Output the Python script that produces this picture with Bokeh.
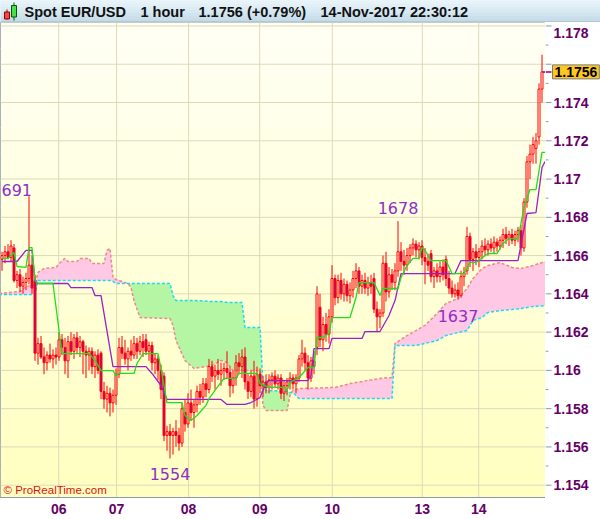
import numpy as np
from bokeh.plotting import figure
from bokeh.models import Range1d, FixedTicker, CustomJSTickFormatter, Label, BoxAnnotation
from bokeh.layouts import column, row
from bokeh.embed import file_html
from bokeh.resources import INLINE
from bokeh.core.properties import value

# ---------------- data (hourly bars, index = bar number) ----------------
opens = [1.1658,1.1660,1.1662,1.1659,1.1664,1.1647,1.1650,1.1644,1.1646,1.1648,
         1.1655,1.1647,1.1609,1.1614,1.1607,1.1604,1.1608,1.1606,1.1608,1.1607,
         1.1616,1.1612,1.1605,1.1615,1.1610,1.1617,1.1612,1.1615,1.1610,1.1608,
         1.1610,1.1602,1.1608,1.1609,1.1589,1.1585,1.1588,1.1583,1.1587,1.1598,
         1.1612,1.1609,1.1606,1.1610,1.1608,1.1614,1.1610,1.1615,1.1616,1.1610,
         1.1613,1.1604,1.1606,1.1600,1.1597,1.1566,1.1568,1.1566,1.1568,1.1566,
         1.1562,1.1578,1.1572,1.1583,1.1578,1.1582,1.1589,1.1586,1.1593,1.1590,
         1.1602,1.1597,1.1600,1.1598,1.1600,1.1601,1.1599,1.1592,1.1596,1.1604,
         1.1602,1.1607,1.1594,1.1589,1.1597,1.1585,1.1598,1.1592,1.1594,1.1591,
         1.1595,1.1597,1.1593,1.1596,1.1588,1.1592,1.1594,1.1596,1.1593,1.1596,
         1.1606,1.1609,1.1604,1.1596,1.1605,1.1612,1.1633,1.1616,1.1624,1.1619,
         1.1628,1.1648,1.1638,1.1647,1.1640,1.1645,1.1639,1.1642,1.1648,1.1652,
         1.1644,1.1647,1.1643,1.1646,1.1648,1.1632,1.1628,1.1630,1.1656,1.1641,
         1.1650,1.1646,1.1652,1.1662,1.1657,1.1655,1.1660,1.1664,1.1666,1.1663,
         1.1665,1.1659,1.1657,1.1661,1.1649,1.1652,1.1649,1.1654,1.1658,1.1648,
         1.1643,1.1640,1.1642,1.1639,1.1649,1.1652,1.1670,1.1658,1.1662,1.1659,
         1.1662,1.1665,1.1663,1.1666,1.1664,1.1667,1.1665,1.1668,1.1671,1.1669,
         1.1671,1.1668,1.1671,1.1673,1.1664,1.1688,1.1709,1.1713,1.1716,1.1722,
         1.1747]
highs = [1.1662,1.1665,1.1666,1.1668,1.1666,1.1652,1.1653,1.1649,1.1651,1.1691,
         1.1660,1.1650,1.1617,1.1618,1.1612,1.1610,1.1614,1.1611,1.1612,1.1620,
         1.1619,1.1617,1.1618,1.1620,1.1619,1.1620,1.1618,1.1616,1.1613,1.1612,
         1.1612,1.1610,1.1611,1.1610,1.1594,1.1592,1.1591,1.1590,1.1601,1.1617,
         1.1618,1.1616,1.1612,1.1616,1.1618,1.1617,1.1618,1.1619,1.1619,1.1615,
         1.1615,1.1609,1.1608,1.1603,1.1599,1.1571,1.1572,1.1570,1.1574,1.1570,
         1.1583,1.1585,1.1588,1.1590,1.1585,1.1592,1.1593,1.1596,1.1596,1.1606,
         1.1605,1.1603,1.1606,1.1604,1.1604,1.1610,1.1602,1.1600,1.1608,1.1609,
         1.1611,1.1612,1.1598,1.1600,1.1605,1.1602,1.1601,1.1597,1.1598,1.1598,
         1.1599,1.1600,1.1598,1.1598,1.1595,1.1596,1.1599,1.1598,1.1598,1.1608,
         1.1616,1.1612,1.1608,1.1607,1.1610,1.1644,1.1640,1.1628,1.1630,1.1632,
         1.1655,1.1650,1.1650,1.1651,1.1648,1.1647,1.1646,1.1652,1.1656,1.1654,
         1.1650,1.1651,1.1649,1.1650,1.1651,1.1636,1.1632,1.1660,1.1662,1.1654,
         1.1653,1.1656,1.1678,1.1667,1.1663,1.1664,1.1666,1.1669,1.1668,1.1667,
         1.1668,1.1664,1.1661,1.1663,1.1654,1.1656,1.1657,1.1658,1.1660,1.1652,
         1.1647,1.1645,1.1646,1.1652,1.1654,1.1675,1.1672,1.1664,1.1666,1.1664,
         1.1668,1.1669,1.1668,1.1669,1.1670,1.1669,1.1670,1.1674,1.1675,1.1673,
         1.1674,1.1673,1.1675,1.1676,1.1690,1.1712,1.1718,1.1722,1.1724,1.1750,
         1.1765]
lows = [1.1652,1.1656,1.1658,1.1657,1.1646,1.1643,1.1641,1.1640,1.1642,1.1645,
        1.1640,1.1605,1.1603,1.1606,1.1598,1.1600,1.1604,1.1601,1.1603,1.1605,
        1.1608,1.1598,1.1596,1.1608,1.1606,1.1609,1.1607,1.1598,1.1596,1.1600,
        1.1598,1.1596,1.1598,1.1585,1.1580,1.1578,1.1576,1.1578,1.1582,1.1596,
        1.1606,1.1603,1.1600,1.1605,1.1606,1.1606,1.1608,1.1607,1.1608,1.1605,
        1.1600,1.1598,1.1595,1.1585,1.1563,1.1558,1.1554,1.1556,1.1560,1.1558,
        1.1560,1.1568,1.1570,1.1574,1.1570,1.1578,1.1582,1.1583,1.1586,1.1588,
        1.1594,1.1590,1.1595,1.1592,1.1595,1.1596,1.1586,1.1588,1.1592,1.1598,
        1.1596,1.1590,1.1585,1.1586,1.1580,1.1581,1.1588,1.1586,1.1588,1.1588,
        1.1590,1.1591,1.1590,1.1585,1.1584,1.1587,1.1590,1.1590,1.1588,1.1594,
        1.1602,1.1600,1.1590,1.1594,1.1598,1.1608,1.1612,1.1610,1.1615,1.1614,
        1.1625,1.1634,1.1635,1.1637,1.1636,1.1636,1.1635,1.1638,1.1643,1.1640,
        1.1640,1.1640,1.1639,1.1640,1.1630,1.1620,1.1622,1.1628,1.1636,1.1638,
        1.1642,1.1642,1.1649,1.1652,1.1650,1.1652,1.1656,1.1660,1.1659,1.1658,
        1.1655,1.1645,1.1652,1.1646,1.1643,1.1646,1.1646,1.1647,1.1644,1.1640,
        1.1638,1.1638,1.1637,1.1638,1.1644,1.1650,1.1654,1.1652,1.1655,1.1654,
        1.1658,1.1660,1.1660,1.1662,1.1661,1.1662,1.1663,1.1664,1.1666,1.1665,
        1.1666,1.1665,1.1667,1.1660,1.1662,1.1685,1.1700,1.1708,1.1708,1.1718,
        1.1740]
closes = [1.1660,1.1662,1.1659,1.1665,1.1647,1.1650,1.1644,1.1646,1.1648,1.1655,
          1.1643,1.1609,1.1614,1.1607,1.1604,1.1608,1.1606,1.1608,1.1607,1.1616,
          1.1612,1.1605,1.1615,1.1610,1.1617,1.1612,1.1615,1.1610,1.1608,1.1610,
          1.1602,1.1608,1.1600,1.1589,1.1585,1.1588,1.1583,1.1587,1.1598,1.1612,
          1.1609,1.1606,1.1610,1.1608,1.1614,1.1610,1.1615,1.1612,1.1610,1.1613,
          1.1604,1.1606,1.1600,1.1590,1.1566,1.1568,1.1566,1.1568,1.1566,1.1562,
          1.1580,1.1572,1.1583,1.1578,1.1582,1.1589,1.1586,1.1593,1.1590,1.1602,
          1.1597,1.1600,1.1598,1.1600,1.1601,1.1599,1.1592,1.1596,1.1604,1.1602,
          1.1607,1.1594,1.1589,1.1597,1.1585,1.1598,1.1592,1.1594,1.1591,1.1595,
          1.1597,1.1593,1.1596,1.1588,1.1592,1.1594,1.1596,1.1593,1.1596,1.1606,
          1.1609,1.1604,1.1596,1.1605,1.1602,1.1640,1.1616,1.1624,1.1619,1.1628,
          1.1648,1.1638,1.1647,1.1640,1.1645,1.1639,1.1642,1.1648,1.1652,1.1644,
          1.1647,1.1643,1.1646,1.1644,1.1632,1.1628,1.1630,1.1656,1.1641,1.1650,
          1.1646,1.1652,1.1662,1.1657,1.1655,1.1660,1.1664,1.1666,1.1663,1.1665,
          1.1659,1.1657,1.1655,1.1649,1.1652,1.1649,1.1654,1.1650,1.1648,1.1643,
          1.1640,1.1642,1.1639,1.1649,1.1651,1.1670,1.1658,1.1662,1.1659,1.1662,
          1.1665,1.1663,1.1666,1.1664,1.1667,1.1665,1.1668,1.1671,1.1669,1.1671,
          1.1668,1.1671,1.1673,1.1664,1.1688,1.1709,1.1713,1.1718,1.1720,1.1747,
          1.1756]

# Ichimoku lines (bar index, price)
tenkan_x = [0,2,3,4,5,8,9,10,11,12,17,20,29,31,33,37,38,39,44,45,47,52,53,54,55,60,61,63,65,68,
            69,71,74,78,79,85,86,89,94,95,96,99,102,104,105,107,109,110,116,118,119,124,126,127,
            132,133,135,137,139,140,141,143,148,150,154,156,158,162,165,167,169,172,174,176,178,180,181]
tenkan = [1.16585,1.16585,1.16600,1.16616,1.16543,1.16538,1.16642,1.16642,1.16470,1.16454,
          1.16454,1.16088,1.16088,1.16052,1.15999,1.15999,1.15973,1.15984,1.15984,1.16036,
          1.16088,1.16088,1.16010,1.15921,1.15832,1.15832,1.15764,1.15738,1.15764,1.15817,
          1.15853,1.15895,1.15958,1.15958,1.15984,1.15984,1.15931,1.15911,1.15911,1.15895,
          1.15937,1.15963,1.16015,1.16015,1.16172,1.16172,1.16193,1.16276,1.16276,1.16381,
          1.16459,1.16459,1.16391,1.16428,1.16428,1.16485,1.16548,1.16585,1.16585,1.16642,
          1.16627,1.16574,1.16574,1.16506,1.16506,1.16564,1.16564,1.16611,1.16611,1.16663,
          1.16689,1.16689,1.16851,1.16945,1.16945,1.17139,1.17139]
kijun_x = [0,5,8,10,11,12,22,23,30,31,33,37,48,50,53,55,73,75,81,83,86,88,89,102,103,104,109,110,
           120,121,126,129,131,133,151,153,172,175,178,180,181]
kijun = [1.16569,1.16569,1.16627,1.16627,1.16470,1.16454,1.16454,1.16433,1.16433,1.16391,
         1.16391,1.16020,1.16020,1.15984,1.15921,1.15848,1.15848,1.15822,1.15822,1.15832,
         1.15858,1.15931,1.15947,1.15947,1.15973,1.16114,1.16114,1.16167,1.16167,1.16203,
         1.16203,1.16287,1.16365,1.16506,1.16506,1.16574,1.16574,1.16820,1.16825,1.17060,1.17092]

# Cloud (senkou span A / B), projected forward
cloud_x = [-1,6,8,10,11,12,14,18,20,21,22,25,26,29,30,34,35,36,37,38,42,43,44,46,56,57,58,61,64,70,
           73,75,77,80,81,86,87,88,95,96,97,99,111,116,126,130,131,135,138,141,145,148,152,155,157,
           160,162,166,170,173,177,182]
span_a = [1.16402,1.16412,1.16438,1.16444,1.16449,1.16512,1.16532,1.16538,1.16574,1.16585,
          1.16569,1.16569,1.16585,1.16585,1.16559,1.16559,1.16627,1.16637,1.16485,1.16475,
          1.16454,1.16433,1.16365,1.16276,1.16271,1.16235,1.16156,1.16052,1.16010,1.16026,
          1.16052,1.16041,1.15999,1.15999,1.15999,1.15999,1.15817,1.15790,1.15790,1.15869,
          1.15895,1.15905,1.15911,1.15931,1.15958,1.15963,1.16141,1.16182,1.16208,1.16235,
          1.16297,1.16350,1.16376,1.16428,1.16480,1.16532,1.16548,1.16564,1.16538,1.16532,
          1.16548,1.16574]
span_b = [1.16397,1.16397,1.16397,1.16397,1.16397,1.16470,1.16470,1.16470,1.16470,1.16470,
          1.16470,1.16470,1.16470,1.16470,1.16470,1.16470,1.16470,1.16470,1.16465,1.16454,
          1.16454,1.16454,1.16454,1.16454,1.16454,1.16391,1.16365,1.16365,1.16365,1.16360,
          1.16360,1.16355,1.16355,1.16355,1.16224,1.16224,1.15921,1.15895,1.15890,1.15884,
          1.15884,1.15853,1.15853,1.15853,1.15853,1.15853,1.16130,1.16130,1.16130,1.16141,
          1.16156,1.16182,1.16198,1.16208,1.16261,1.16276,1.16303,1.16313,1.16318,1.16323,
          1.16334,1.16339]

# Annotated extremes
ext_high_bar = [9, 132]
ext_high_val = [1.1691, 1.1678]
ext_high_txt = ["1691", "1678"]
ext_low_bar = [56, 152]
ext_low_val = [1.1554, 1.1637]
ext_low_txt = ["1554", "1637"]

# Axes
y_ticks = [1.154, 1.156, 1.158, 1.160, 1.162, 1.164, 1.166, 1.168, 1.170, 1.172, 1.174, 1.176, 1.178]
y_minor = [1.155, 1.157, 1.159, 1.161, 1.163, 1.165, 1.167, 1.169, 1.171, 1.173, 1.175, 1.177]
y_hidden = [1.176, 1.178]          # 1.176 is under the price box, 1.178 is drawn lower
top_label = 1.178
day_ticks = [18.9, 38.2, 62.2, 85.9, 110.1, 140.1, 158.9]
day_labels = ["06", "07", "08", "09", "10", "13", "14"]
last_price = 1.1756
title_parts = ["Spot EUR/USD", "1 hour", "1.1756 (+0.79%)", "14-Nov-2017 22:30:12"]

# ---------------- layout ----------------
TITLE_H = 22
FRAME_W = 545
AXIS_W = 55
MAIN_H = 497
BOTTOM = 22
PX_PER_BAR = 3.0
X0 = -0.5
X1 = X0 + FRAME_W / PX_PER_BAR
Y0, Y1 = 1.153357, 1.178181
FONT = "Liberation Sans"
AXIS_TXT = "#660066"
AXIS_LINE = "#8d99a6"
BODY_W = 2.0 / PX_PER_BAR      # 2px between outline centres -> 3px crisp body

# ---- title bar ----
W = FRAME_W + AXIS_W
tf = figure(width=W, height=TITLE_H, x_range=Range1d(0, W), y_range=Range1d(0, TITLE_H),
            output_backend="svg", toolbar_location=None, x_axis_location=None,
            y_axis_location=None, min_border=0, outline_line_color=None,
            background_fill_color="#d8ebf5", border_fill_color="#d8ebf5")
tf.grid.visible = False
stripe_cols = ["#c4dbe8", "#cadfeb", "#d0e4ee", "#d6e8f1", "#dcecf4", "#e2eff6", "#e8f3f9"]
nst = len(stripe_cols)
sb = np.linspace(0, TITLE_H, nst + 1)
tf.quad(left=0, right=W, bottom=sb[:-1], top=sb[1:] + 0.3, fill_color=stripe_cols, line_color=None)
tf.segment(x0=0, y0=0.5, x1=W, y1=0.5, line_color="#9fb2c0", line_width=1)
# candle icon
tf.segment(x0=[6.5, 13.5], y0=[3, 2], x1=[6.5, 13.5], y1=[13, 20], line_color=["#900000", "#005a00"])
tf.quad(left=[4, 11], right=[9, 16], bottom=[3.5, 5.5], top=[10.5, 17],
        fill_color=["#ee4a4a", "#4cdc4c"], line_color=["#900000", "#005a00"])
tf.text(x=[24, 140, 198, 320], y=[11] * 4, text=title_parts,
        text_font=value(FONT), text_font_style="bold", text_font_size="14.5px",
        text_baseline="middle", text_color="#111111")

# ---- main chart ----
p = figure(width=FRAME_W, height=MAIN_H, x_range=Range1d(X0, X1), y_range=Range1d(Y0, Y1),
           output_backend="svg", toolbar_location=None, y_axis_location=None,
           min_border_left=0, min_border_top=0, min_border_right=0, min_border_bottom=BOTTOM,
           outline_line_color=AXIS_LINE, border_fill_color="white",
           background_fill_color="#ffffdc")
p.grid.visible = False

# background gradient
nb = 18
edges = np.linspace(Y0, Y1, nb + 1)
top_rgb, bot_rgb = (255, 255, 245), (255, 255, 192)
for k in range(nb):
    f = (k + 0.5) / nb
    r, g, b = [int(round(bo + (to - bo) * f)) for to, bo in zip(top_rgb, bot_rgb)]
    p.add_layout(BoxAnnotation(bottom=edges[k], top=edges[k + 1] + (Y1 - Y0) * 0.002,
                               fill_color=f"#{r:02x}{g:02x}{b:02x}", fill_alpha=1,
                               line_color=None, level="underlay"))

GRID = "#ddd9b8"
p.segment(x0=X0, y0=y_ticks, x1=X1, y1=y_ticks, line_color=GRID, line_width=1)
p.segment(x0=day_ticks, y0=Y0, x1=day_ticks, y1=Y1, line_color=GRID, line_width=1)

# cloud
a = np.array(span_a)
b = np.array(span_b)
lo = np.minimum(a, b)
p.varea(x=cloud_x, y1=a, y2=lo, fill_color="#ffc8e4")
p.varea(x=cloud_x, y1=b, y2=lo, fill_color="#b4f6a4")
p.line(cloud_x, span_a, line_color="#f08888", line_dash="3 2", line_width=1.5)
p.line(cloud_x, span_b, line_color="#18dcf2", line_dash="3 2", line_width=1.5)

# candles
o = np.array(opens); c = np.array(closes); h = np.array(highs); l = np.array(lows)
bars = np.arange(len(o))
btop = np.maximum(o, c); bbot = np.minimum(o, c)
up = c >= o
p.segment(x0=bars, y0=h, x1=bars, y1=btop, line_color="#ff0000", line_width=1)
p.segment(x0=bars, y0=bbot, x1=bars, y1=l, line_color="#ff0000", line_width=1)
p.vbar(x=bars[up], top=btop[up], bottom=bbot[up], width=BODY_W, fill_alpha=0,
       line_color="#ff0000", line_width=1)
p.vbar(x=bars[~up], top=btop[~up], bottom=bbot[~up], width=BODY_W, fill_color="#a8107e",
       line_color="#ff0000", line_width=1)

# tenkan / kijun
p.line(kijun_x, kijun, line_color="#9a1fc8", line_width=1.3)
p.line(tenkan_x, tenkan, line_color="#1ede1e", line_width=1.3)

# last-price stub
p.segment(x0=[bars[-1] + 0.3], y0=[last_price], x1=[X1], y1=[last_price],
          line_color="#800080", line_width=1.5)

# extreme labels
LBL = "#8e2ec8"
p.text(x=ext_high_bar[:1], y=ext_high_val[:1], text=ext_high_txt[:1], text_align="right",
       text_baseline="bottom", x_offset=3, y_offset=0, text_color=LBL,
       text_font=value("DejaVu Sans"), text_font_size="16px")
p.text(x=ext_high_bar[1:], y=ext_high_val[1:], text=ext_high_txt[1:], text_align="center",
       text_baseline="bottom", y_offset=-7, text_color=LBL,
       text_font=value("DejaVu Sans"), text_font_size="16px")
p.text(x=ext_low_bar, y=ext_low_val, text=ext_low_txt, text_align="center",
       text_baseline="top", y_offset=10, text_color=LBL,
       text_font=value("DejaVu Sans"), text_font_size="16px")

# bottom (date) axis
xa = p.xaxis[0]
xa.ticker = FixedTicker(ticks=day_ticks, minor_ticks=[])
xa.formatter = CustomJSTickFormatter(
    args=dict(t=day_ticks, lab=day_labels),
    code="for (let k=0;k<t.length;k++){ if (Math.abs(t[k]-tick)<0.01) return lab[k]; } return '';")
xa.axis_line_color = AXIS_LINE
xa.major_tick_line_color = None
xa.minor_tick_line_color = None
xa.major_tick_out = 0
xa.major_tick_in = 0
xa.major_label_standoff = 6
xa.major_label_text_color = AXIS_TXT
xa.major_label_text_font = FONT
xa.major_label_text_font_style = "bold"
xa.major_label_text_font_size = "14px"

# watermark
p.add_layout(Label(x=X0, y=Y0, text="\u00a9 ProRealTime.com", x_offset=3, y_offset=2,
                   text_baseline="bottom", text_align="left", text_font=FONT,
                   text_font_size="11.5px", text_color="#e01010"))

# ---- price axis (right) ----
ax = figure(width=AXIS_W, height=MAIN_H, x_range=Range1d(0, AXIS_W), y_range=p.y_range,
            output_backend="svg", toolbar_location=None, x_axis_location=None,
            y_axis_location=None, min_border_left=0, min_border_right=0, min_border_top=0,
            min_border_bottom=BOTTOM, outline_line_color=None,
            background_fill_color="white", border_fill_color="white")
ax.grid.visible = False
ax.segment(x0=0, y0=y_ticks, x1=6, y1=y_ticks, line_color=AXIS_LINE, line_width=1)
ax.segment(x0=0, y0=y_minor, x1=3, y1=y_minor, line_color=AXIS_LINE, line_width=1)
shown = [v for v in y_ticks if all(abs(v - hv) > 1e-9 for hv in y_hidden)]
ax.text(x=8, y=shown, text=[f"{v:.3f}".rstrip("0") for v in shown],
        text_baseline="middle", text_align="left", text_font=value(FONT),
        text_font_style="bold", text_font_size="14px", text_color=AXIS_TXT)
ax.text(x=8, y=[top_label], text=[f"{top_label:.3f}"], y_offset=7,
        text_baseline="middle", text_align="left", text_font=value(FONT),
        text_font_style="bold", text_font_size="14px", text_color=AXIS_TXT)
ax.segment(x0=[0], y0=[last_price], x1=[6], y1=[last_price], line_color="#800080", line_width=1.5)
ax.add_layout(Label(x=6, y=last_price, text=f"{last_price:.4f}", x_offset=1,
                    text_baseline="middle", text_align="left", text_font=FONT,
                    text_font_style="bold", text_font_size="14px", text_color="#000000",
                    background_fill_color="#ffc81e", border_line_color="#7a7a7a", padding=2))

layout = column(tf, row(p, ax))
open("out.html", "w").write(file_html(layout, INLINE))
